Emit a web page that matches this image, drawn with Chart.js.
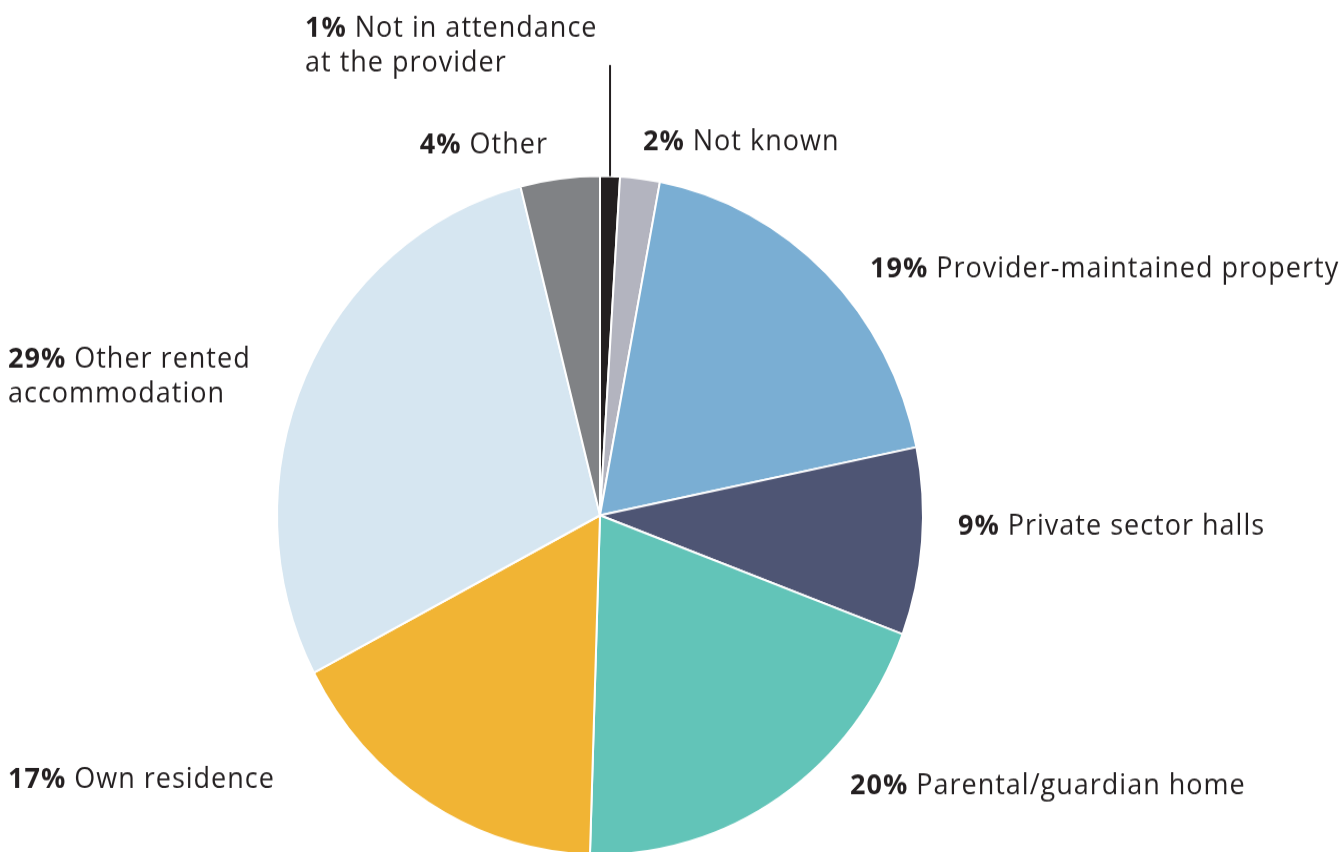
<!DOCTYPE html>
<html>
<head>
<meta charset="utf-8">
<script src="https://cdn.jsdelivr.net/npm/chart.js@4.4.1/dist/chart.umd.min.js"></script>
<style>
  html, body { margin: 0; padding: 0; background: #fff; overflow: hidden; }
</style>
</head>
<body>
<canvas id="pie" width="1341" height="811" style="display:block;width:1341px;height:852px"></canvas>
<script>
// the reference pie is a little taller than wide, so the canvas is stretched vertically
const STRETCH = 852 / 811;

const categories = [
  'Not in attendance at the provider',
  'Not known',
  'Provider-maintained property',
  'Private sector halls',
  'Parental/guardian home',
  'Own residence',
  'Other rented accommodation',
  'Other',
];
const shares = [1, 2, 19, 9, 20, 17, 29, 4];
const colors = ['#231f20', '#b3b4bf', '#7aaed3', '#4e5574', '#62c4b8', '#f1b434', '#d6e6f1', '#808285'];

// label text lines (first line gets the bold percentage)
const labelLines = [
  ['Not in attendance', 'at the provider'],
  ['Not known'],
  ['Provider-maintained property'],
  ['Private sector halls'],
  ['Parental/guardian home'],
  ['Own residence'],
  ['Other rented', 'accommodation'],
  ['Other'],
];
// label placement in page pixels: x, y of first line, alignment
const labelPos = [
  { x: 305, y: 29, align: 'left' },
  { x: 643, y: 142, align: 'left' },
  { x: 870, y: 269, align: 'left' },
  { x: 958, y: 527, align: 'left' },
  { x: 850, y: 786, align: 'left' },
  { x: 8, y: 780, align: 'left' },
  { x: 8, y: 360, align: 'left' },
  { x: 548, y: 145, align: 'right' },
];

const FONT = '"Open Sans", sans-serif';
const FSIZE = 27;
const LINE_H = 34;
const INK = '#231f20';

const labelPlugin = {
  id: 'sliceLabels',
  afterDraw(chart) {
    const ctx = chart.ctx;
    const arcs = chart.getDatasetMeta(0).data;
    ctx.save();
    ctx.fillStyle = INK;
    ctx.textBaseline = 'middle';
    ctx.letterSpacing = '1px';

    // leader line for the smallest slice
    const a0 = arcs[0];
    const mid = (a0.startAngle + a0.endAngle) / 2;
    const lx = a0.x + Math.cos(mid) * a0.outerRadius;
    const ly = a0.y + Math.sin(mid) * a0.outerRadius;
    ctx.strokeStyle = INK;
    ctx.lineWidth = 2;
    ctx.beginPath();
    ctx.moveTo(lx, ly);
    ctx.lineTo(lx, 65 / STRETCH);
    ctx.stroke();

    labelLines.forEach((lines, i) => {
      const p = labelPos[i];
      const y0 = p.y / STRETCH;
      const pct = shares[i] + '%';
      lines.forEach((txt, j) => {
        const y = y0 + j * LINE_H / STRETCH;
        if (j === 0) {
          ctx.font = `bold ${FSIZE}px ${FONT}`;
          const wb = ctx.measureText(pct + ' ').width;
          ctx.font = `${FSIZE}px ${FONT}`;
          const wr = ctx.measureText(txt).width;
          const x = p.align === 'right' ? p.x - wb - wr : p.x;
          ctx.textAlign = 'left';
          ctx.font = `bold ${FSIZE}px ${FONT}`;
          ctx.fillText(pct, x, y);
          ctx.font = `${FSIZE}px ${FONT}`;
          ctx.fillText(txt, x + wb, y);
        } else {
          ctx.font = `${FSIZE}px ${FONT}`;
          ctx.textAlign = p.align;
          ctx.fillText(txt, p.x, y);
        }
      });
    });
    ctx.restore();
  },
};

new Chart(document.getElementById('pie'), {
  type: 'pie',
  data: {
    labels: categories,
    datasets: [{
      data: shares,
      backgroundColor: colors,
      borderColor: '#ffffff',
      borderWidth: 2,
    }],
  },
  options: {
    responsive: false,
    animation: false,
    devicePixelRatio: 1,
    radius: 323,
    layout: { padding: { left: 0, right: 141, top: 170, bottom: 0 } },
    plugins: {
      legend: { display: false },
      tooltip: { enabled: false },
    },
  },
  plugins: [labelPlugin],
});
</script>
</body>
</html>
